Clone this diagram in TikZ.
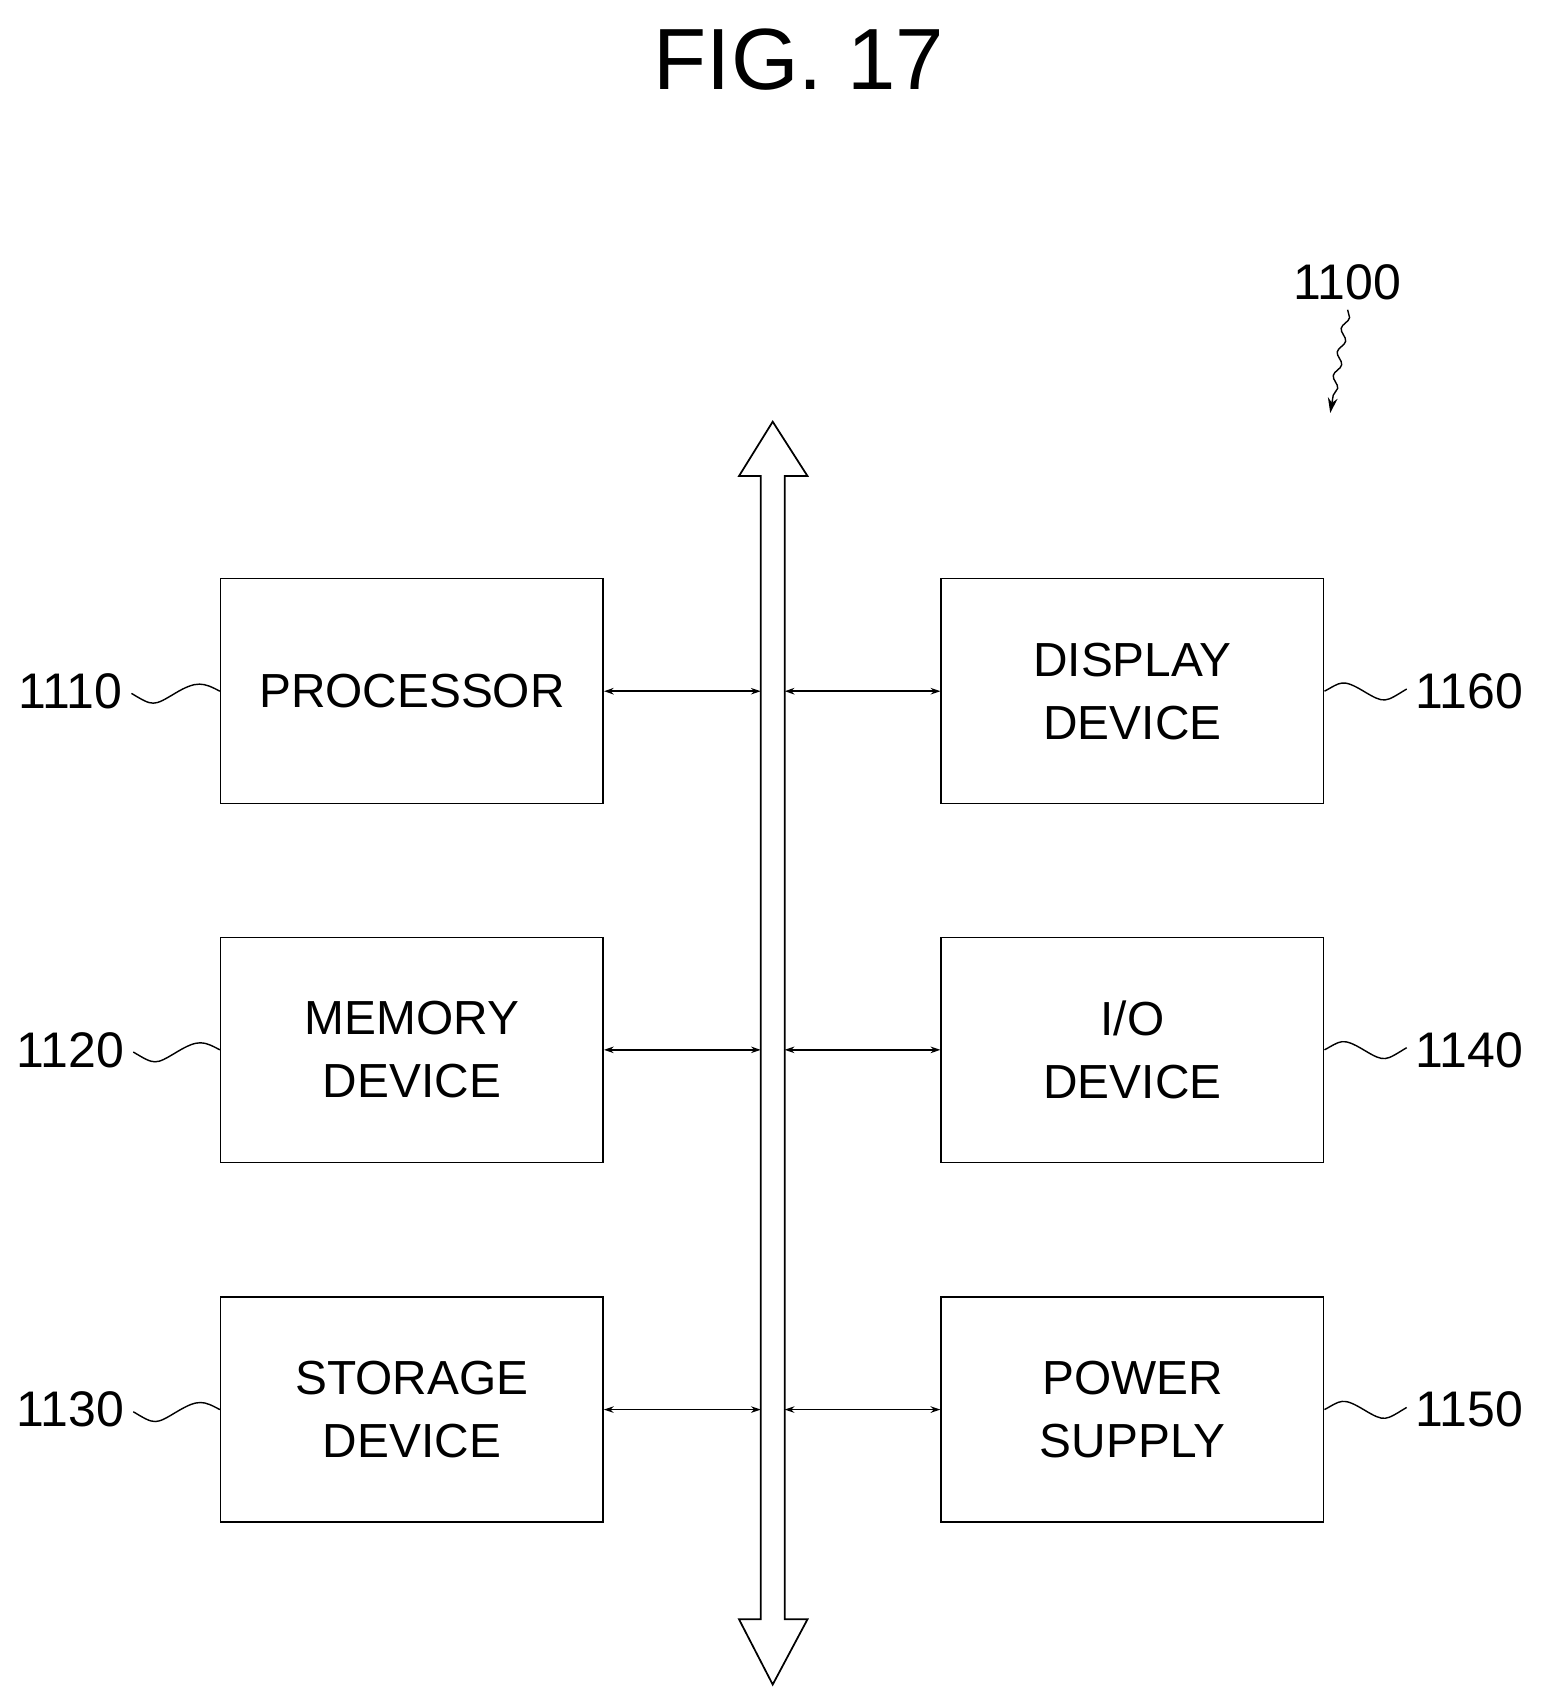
\documentclass[tikz,border=0pt]{standalone}
\usepackage{fontspec}
\setmainfont{Liberation Sans}
\usetikzlibrary{arrows.meta,decorations.pathmorphing}
\begin{document}
\begin{tikzpicture}[x=1pt,y=-1pt,
  box/.style={draw,line width=1.4pt,minimum width=352pt,minimum height=207pt,inner sep=0pt,align=center,font=\fontsize{44}{58}\selectfont},
  lbl/.style={font=\fontsize{46}{50}\selectfont,inner sep=0pt},
  conn/.style={line width=1.4pt,{Stealth[length=9pt,width=6pt]}-{Stealth[length=9pt,width=6pt]}},
  tl/.style={line width=1.3pt}]
\useasboundingbox (0,0) rectangle (1420,1567);
\node[font=\fontsize{80}{90}\selectfont] (title) at (735,55) {FIG.\ 17};
\node[lbl] (l1100) at (1240,260) {1100};
\coordinate (t1100) at (1224,380);
\draw[line width=1.3pt,-{Stealth[length=14pt,width=9pt]},decorate,decoration={snake,amplitude=3pt,segment length=22pt,post length=16pt}] (1240,285) -- (t1100);

\draw[line width=1.6pt] (711,388) -- (680,438) -- (700,438) -- (700,1490) -- (680,1490) -- (711,1550) -- (743,1490) -- (722,1490) -- (722,438) -- (743,438) -- cycle;

\node[box] (p) at (379,636) {PROCESSOR};
\node[box] (m) at (379,966) {MEMORY\\DEVICE};
\node[box] (s) at (379,1297) {STORAGE\\DEVICE};
\node[box] (d) at (1042,636) {DISPLAY\\DEVICE};
\node[box] (io) at (1042,966) {I/O\\DEVICE};
\node[box] (ps) at (1042,1297) {POWER\\SUPPLY};

\foreach \n/\y in {p/636,m/966,s/1297}{
  \coordinate (b\n) at (700,\y);
  \draw[conn] (\n.east) -- (b\n);}
\foreach \n/\y in {d/636,io/966,ps/1297}{
  \coordinate (b\n) at (722,\y);
  \draw[conn] (b\n) -- (\n.west);}

\foreach \n/\t/\y in {p/1110/636,m/1120/966,s/1130/1297}{
  \node[lbl] (L\t) at (65,\y) {\t};
  \draw[tl] (L\t.east) ++(8,2) .. controls +(20,12) and +(-20,12) .. +(40,0) .. controls +(20,-12) and +(-15,-8) .. (\n.west);}
\foreach \n/\t/\y in {d/1160/636,io/1140/966,ps/1150/1297}{
  \node[lbl] (L\t) at (1352,\y) {\t};
  \draw[tl] (\n.east) .. controls +(15,-8) and +(-20,-12) .. +(36,0) .. controls +(20,12) and +(-20,12) .. ([xshift=-8pt,yshift=2pt]L\t.west);}
\end{tikzpicture}
\end{document}
